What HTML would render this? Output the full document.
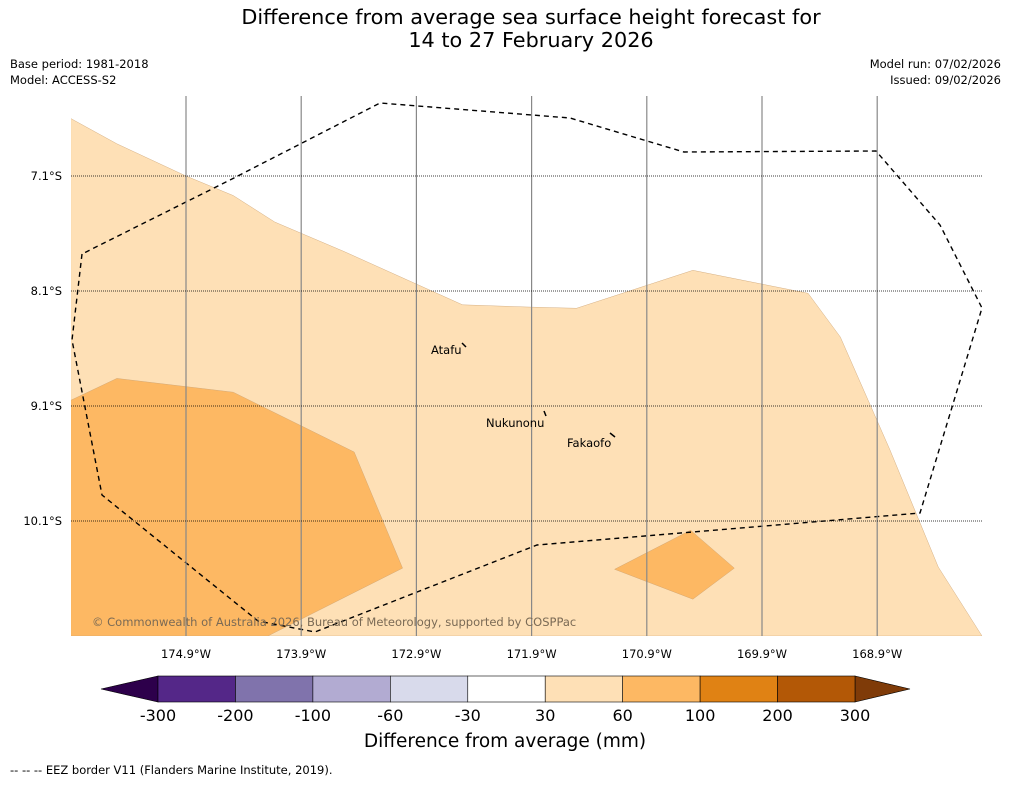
<!DOCTYPE html>
<html><head><meta charset="utf-8"><style>
body{margin:0;background:#fff;font-family:"Liberation Sans","DejaVu Sans",sans-serif}
svg text{font-family:"DejaVu Sans","Liberation Sans",sans-serif}
</style></head><body>
<svg id="c" width="1011" height="781" xmlns="http://www.w3.org/2000/svg">
<rect width="1011" height="781" fill="#fff"/>
<text x="531" y="24" font-size="20.8" text-anchor="middle">Difference from average sea surface height forecast for</text>
<text x="531" y="47" font-size="20.8" text-anchor="middle">14 to 27 February 2026</text>
<text x="10" y="68" font-size="11.5">Base period: 1981-2018</text>
<text x="10" y="84" font-size="11.5">Model: ACCESS-S2</text>
<text x="1001" y="68" font-size="11.5" text-anchor="end">Model run: 07/02/2026</text>
<text x="1001" y="84" font-size="11.5" text-anchor="end">Issued: 09/02/2026</text>
<g id="map"></g>
<g id="cb"></g>
<text x="505" y="747" font-size="18.5" text-anchor="middle">Difference from average (mm)</text>
<text x="10" y="774" font-size="11.5">--  --  -- EEZ border V11 (Flanders Marine Institute, 2019).</text>
</svg>
<script>
const lonTicks=[174.9,173.9,172.9,171.9,170.9,169.9,168.9];
const latTicks=[7.1,8.1,9.1,10.1];
const light30W=[175.9,175.5,174.9,174.49,174.13,173.52,172.5,171.91,171.51,170.5,169.5,169.22,168.79,168.37,167.99,175.9];
const light30S=[6.6,6.82,7.1,7.27,7.5,7.76,8.22,8.24,8.25,7.92,8.12,8.5,9.48,10.5,11.1,11.1];
const mid60W=[175.9,175.5,174.49,173.44,173.02,174.19,175.9];
const mid60S=[9.05,8.86,8.98,9.5,10.51,11.1,11.1];
const blob60W=[171.18,170.52,170.14,170.5];
const blob60S=[10.52,10.18,10.51,10.78];
const cbLevels=["-300","-200","-100","-60","-30","30","60","100","200","300"];
const cbColors=["#542788","#8073ac","#b2abd2","#d8daeb","#ffffff","#fee0b6","#fdb863","#e08214","#b35806"];
const ns="http://www.w3.org/2000/svg";
const X=w=>186+(174.9-w)*115.2, Y=s=>176+(s-7.1)*115;
const L=71,R=982,T=96,B=636;
const map=document.getElementById('map');
function el(t,a,p){const e=document.createElementNS(ns,t);for(const k in a)e.setAttribute(k,a[k]);(p||map).appendChild(e);return e;}
const defs=el('clipPath',{id:'clip'});el('rect',{x:L,y:T,width:R-L,height:B-T},defs);
const g=el('g',{'clip-path':'url(#clip)'});
function poly(W,S,fill,name){const p=el('polygon',{points:W.map((w,i)=>X(w)+','+Y(S[i])).join(' '),fill:fill,stroke:'#c9a070','stroke-width':0.4},g);

}
poly(light30W,light30S,'#fee0b6','contour-30-60');
poly(mid60W,mid60S,'#fdb863','contour-60-100');
poly(blob60W,blob60S,'#fdb863','contour-60-100-small');
lonTicks.forEach(w=>{const l=el('line',{x1:X(w),x2:X(w),y1:T,y2:B,stroke:'#888','stroke-width':1.2});


const t=el('text',{x:X(w),y:658,'font-size':11.5,'text-anchor':'middle'});t.textContent=w.toFixed(1)+'°W';

});
latTicks.forEach(s=>{const l=el('line',{x1:L,x2:R,y1:Y(s),y2:Y(s),stroke:'#000','stroke-width':0.8,'stroke-dasharray':'1,1'});


const t=el('text',{x:62,y:Y(s)+4,'font-size':11.5,'text-anchor':'end'});t.textContent=s.toFixed(1)+'°S';

});
const eez=el('path',{d:'M82,254 L72,340 L102,495 L258,621 L315,632 L537,545 L920,513 L982,308 L940,225 L876,151 L684,152 L570,118 L380,103 L230,180 Z',fill:'none',stroke:'#000','stroke-width':1.4,'stroke-dasharray':'5,4'},g);


[['Atafu',431,354,462,343,466,347],['Nukunonu',486,427,544,411,546,416],['Fakaofo',567,447,610,433,615,437]].forEach(a=>{
const t=el('text',{x:a[1],y:a[2],'font-size':11.5});t.textContent=a[0];


el('line',{x1:a[3],y1:a[4],x2:a[5],y2:a[6],stroke:'#000','stroke-width':1.5});});
const cp=el('text',{x:92,y:626,'font-size':11.5,fill:'#7a6a55'});cp.textContent='© Commonwealth of Australia 2026, Bureau of Meteorology, supported by COSPPac';


const cb=document.getElementById('cb');
const x0=158,x1=855,yt=676,yb=702,n=cbColors.length,sw=(x1-x0)/n;
const lt=el('polygon',{points:`101,689 ${x0},${yt} ${x0},${yb}`,fill:'#2d004b',stroke:'#000','stroke-width':0.6},cb);


const rt=el('polygon',{points:`910,689 ${x1},${yt} ${x1},${yb}`,fill:'#7f3b08',stroke:'#000','stroke-width':0.6},cb);


cbColors.forEach((c,i)=>{const r=el('rect',{x:x0+i*sw,y:yt,width:sw,height:yb-yt,fill:c,stroke:'#000','stroke-width':0.6},cb);

});
cbLevels.forEach((v,i)=>{const t=el('text',{x:x0+i*sw,y:721,'font-size':16,'text-anchor':'middle'},cb);t.textContent=v;

});
</script>
</body></html>
